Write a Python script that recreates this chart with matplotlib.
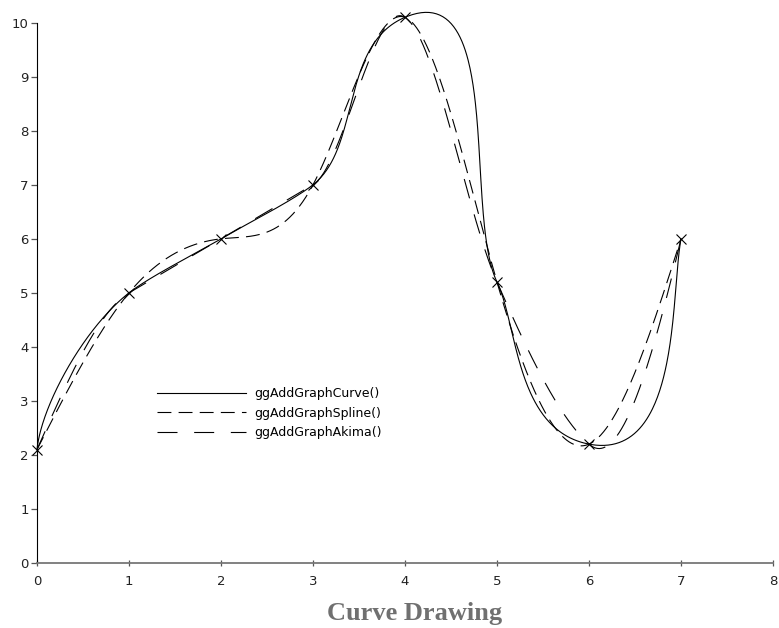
import numpy as np
import matplotlib.pyplot as plt

# data points
px = np.array([0, 1, 2, 3, 4, 5, 6, 7], dtype=float)
py = np.array([2.1, 5.0, 6.0, 7.0, 10.1, 5.2, 2.2, 6.0])
labels = ['ggAddGraphCurve()', 'ggAddGraphSpline()', 'ggAddGraphAkima()']
xticks = list(range(9))
yticks = list(range(11))


def hermite(p0, p1, t0, t1, s):
    return ((2 * s ** 3 - 3 * s ** 2 + 1) * p0 + (s ** 3 - 2 * s ** 2 + s) * t0
            + (-2 * s ** 3 + 3 * s ** 2) * p1 + (s ** 3 - s ** 2) * t1)


def natural_spline(xk, yk, xs):
    n = len(xk)
    h = np.diff(xk)
    A = np.zeros((n, n))
    r = np.zeros(n)
    A[0, 0] = A[-1, -1] = 1
    for i in range(1, n - 1):
        A[i, i - 1:i + 2] = h[i - 1], 2 * (h[i - 1] + h[i]), h[i]
        r[i] = 6 * ((yk[i + 1] - yk[i]) / h[i] - (yk[i] - yk[i - 1]) / h[i - 1])
    M = np.linalg.solve(A, r)
    idx = np.clip(np.searchsorted(xk, xs) - 1, 0, n - 2)
    hh = xk[idx + 1] - xk[idx]
    a = (xk[idx + 1] - xs) / hh
    b = (xs - xk[idx]) / hh
    return (a * yk[idx] + b * yk[idx + 1]
            + ((a ** 3 - a) * M[idx] + (b ** 3 - b) * M[idx + 1]) * hh ** 2 / 6)


def akima(xk, yk, xs):
    m = np.diff(yk) / np.diff(xk)
    m = np.concatenate([[3 * m[0] - 2 * m[1], 2 * m[0] - m[1]], m,
                        [2 * m[-1] - m[-2], 3 * m[-1] - 2 * m[-2]]])
    t = np.zeros(len(xk))
    for i in range(len(xk)):
        w1, w2 = abs(m[i + 3] - m[i + 2]), abs(m[i + 1] - m[i])
        if w1 + w2 == 0:
            t[i] = 0.5 * (m[i + 1] + m[i + 2])
        else:
            t[i] = (w1 * m[i + 1] + w2 * m[i + 2]) / (w1 + w2)
    idx = np.clip(np.searchsorted(xk, xs) - 1, 0, len(xk) - 2)
    h = xk[idx + 1] - xk[idx]
    s = (xs - xk[idx]) / h
    return hermite(yk[idx], yk[idx + 1], h * t[idx], h * t[idx + 1], s)


def smooth_curve(xk, yk, k=0.8, n=120):
    # parametric curve: chord-length (Bessel) tangent directions,
    # tangent length = k * chord of the segment
    P = np.column_stack([xk, yk])
    d = np.diff(P, axis=0)
    h = np.hypot(d[:, 0], d[:, 1])
    v = d / h[:, None]
    D = np.zeros_like(P)
    for i in range(1, len(P) - 1):
        D[i] = v[i - 1] - (P[i + 1] - P[i - 1]) / (h[i - 1] + h[i]) + v[i]
    D[0] = v[0] + (v[0] - v[1]) * h[0] / (h[0] + h[1])
    D[-1] = v[-1] + (v[-1] - v[-2]) * h[-1] / (h[-2] + h[-1])
    D /= np.hypot(D[:, 0], D[:, 1])[:, None]
    s = np.linspace(0, 1, n)
    cx, cy = [], []
    for i in range(len(P) - 1):
        L = k * h[i]
        cx.append(hermite(P[i, 0], P[i + 1, 0], D[i, 0] * L, D[i + 1, 0] * L, s))
        cy.append(hermite(P[i, 1], P[i + 1, 1], D[i, 1] * L, D[i + 1, 1] * L, s))
    return np.concatenate(cx), np.concatenate(cy)


xs = np.linspace(px[0], px[-1], 1400)
cx, cy = smooth_curve(px, py)

fig = plt.figure(figsize=(7.79, 6.28), dpi=100)
ax = fig.add_axes([37 / 779, 1 - 563 / 628, 736 / 779, 540.3 / 628])

ax.plot(cx, cy, color='black', lw=0.8, clip_on=False, label=labels[0])
ax.plot(xs, natural_spline(px, py, xs), color='black', lw=0.8, dashes=(12.5, 6.5),
        clip_on=False, label=labels[1])
ax.plot(xs, akima(px, py, xs), color='black', lw=0.8, dashes=(18, 15),
        clip_on=False, label=labels[2])
ax.plot(px, py, 'x', color='black', ms=6.5, mew=0.8, clip_on=False)

ax.set_xlim(0, 8)
ax.set_ylim(0, 10)
ax.set_xticks(xticks)
ax.set_yticks(yticks)
for side in ['top', 'right']:
    ax.spines[side].set_visible(False)
ax.spines['left'].set_linewidth(0.8)
ax.spines['bottom'].set_color('#777777')
ax.spines['bottom'].set_linewidth(1.3)
ax.tick_params(axis='y', direction='out', length=4, width=0.9, color='#555555',
               labelsize=9.5, pad=2, labelcolor='#222222')
ax.tick_params(axis='x', direction='inout', length=5, width=0.9, color='#555555',
               labelsize=9.5, pad=6, labelcolor='#222222')

ax.legend(loc='upper left', bbox_to_anchor=(0.163, 0.325), frameon=False,
          fontsize=9, handlelength=7.1, handletextpad=0.7, labelspacing=0.5,
          borderpad=0, borderaxespad=0)

fig.text(0.532, 0.012, 'Curve Drawing', ha='center', va='baseline',
         fontsize=19, fontweight='bold', family='Liberation Serif', color='#707070')

fig.savefig('out.png')
